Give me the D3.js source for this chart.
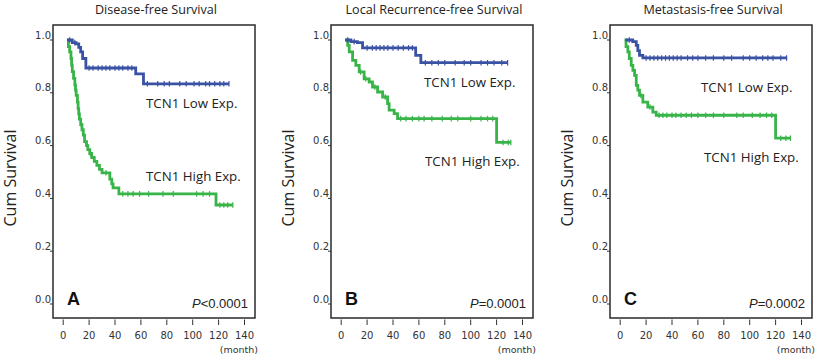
<!DOCTYPE html>
<html>
<head>
<meta charset="utf-8">
<script src="https://cdn.jsdelivr.net/npm/d3@7"></script>
<style>
  body { margin: 0; background: #fff; }
  svg { display: block; }
  .tick-label { font-family: "DejaVu Sans", sans-serif; font-size: 10px; fill: #333; }
  .title { font-family: "Open Sans", sans-serif; font-size: 12.6px; fill: #222; }
  .group-label { font-family: "Open Sans", sans-serif; font-size: 13.3px; fill: #222; }
  .axis-label { font-family: "Open Sans", sans-serif; font-size: 16px; fill: #222; }
</style>
</head>
<body>
<script>
// chart size
const width = 815;
const height = 361;

// panel text
const panelTitles = ['Disease-free Survival', 'Local Recurrence-free Survival', 'Metastasis-free Survival'];
const panelLetters = ['A', 'B', 'C'];
const pValues = ['<0.0001', '=0.0001', '=0.0002'];
const groupNames = ['TCN1 Low Exp.', 'TCN1 High Exp.'];
const yAxisLabel = 'Cum Survival';
const xUnit = '(month)';
const xTicks = [0, 20, 40, 60, 80, 100, 120, 140];
const yTicks = [0, 0.2, 0.4, 0.6, 0.8, 1.0];

// Kaplan-Meier steps: [month, survival after that month], last entry = end of follow-up
const dfsLow = [[3, 1.0], [7, 0.99], [10, 0.985], [12, 0.972], [13.5, 0.955], [15, 0.93], [17.5, 0.894], [56, 0.872], [62, 0.834], [128, 0.834]];
const dfsHigh = [[3, 1.0], [4, 0.975], [5, 0.955], [6, 0.93], [6.5, 0.905], [7, 0.88], [8, 0.855], [9, 0.83], [9.5, 0.81], [10, 0.79],
  [11, 0.765], [11.5, 0.74], [12, 0.72], [12.5, 0.70], [13.5, 0.68], [14.5, 0.66], [15.5, 0.64], [16.5, 0.615], [18, 0.60],
  [19, 0.585], [20.5, 0.57], [22, 0.555], [24, 0.54], [26, 0.525], [28, 0.51], [30, 0.497], [36, 0.473], [37.5, 0.455],
  [38.5, 0.44], [43, 0.417], [118, 0.375], [131, 0.375]];
const lrfsLow = [[3, 1.0], [7.5, 0.994], [12.5, 0.99], [16.5, 0.97], [57.5, 0.942], [61.5, 0.914], [128.5, 0.914]];
const lrfsHigh = [[3, 1.0], [5, 0.98], [6.2, 0.955], [8.8, 0.923], [11.3, 0.904], [13.9, 0.879], [17.7, 0.853], [21.6, 0.841],
  [24.2, 0.822], [28.1, 0.803], [32, 0.784], [35.8, 0.759], [37, 0.734], [40.9, 0.721], [43.5, 0.702], [120, 0.612], [131, 0.612]];
const mfsLow = [[4, 1.0], [9.7, 0.994], [12.4, 0.98], [13.6, 0.96], [14.9, 0.942], [17.5, 0.932], [128.5, 0.932]];
const mfsHigh = [[3.3, 1.0], [4.5, 0.975], [5.9, 0.955], [7, 0.93], [8.5, 0.904], [9.8, 0.885], [11.1, 0.866], [12.4, 0.828],
  [13.6, 0.81], [14.9, 0.79], [17.5, 0.765], [21.3, 0.746], [25.2, 0.727], [27.8, 0.715], [120, 0.628], [131.5, 0.628]];

// censored cases (months)
const dfsLowCensor = [5, 9, 20, 23, 27, 30, 33, 36, 40, 43, 46, 50, 53, 65, 73, 78, 82, 90, 95, 101, 105, 110, 113, 117, 121, 124, 128];
const dfsHighCensor = [14, 21, 33, 46, 50, 54, 59, 66, 77, 85, 103, 108, 113, 121, 124, 127, 131];
const lrfsLowCensor = [5, 10, 20, 24, 27, 30, 33, 36, 40, 44, 48, 52, 55, 65, 70, 75, 80, 88, 95, 100, 108, 113, 118, 124, 128.5];
const lrfsHighCensor = [15, 19, 26, 34, 46, 50, 55, 60, 64, 70, 78, 85, 90, 100, 108, 113, 117, 125, 129, 131];
const mfsLowCensor = [7, 20, 23, 26, 29, 32, 35, 38, 41, 44, 47, 52, 56, 60, 66, 72, 80, 86, 95, 100, 105, 110, 114, 118, 124, 128.5];
const mfsHighCensor = [16, 23, 30, 33, 36, 40, 43, 47, 51, 55, 60, 66, 72, 80, 90, 95, 102, 108, 113, 117, 124, 128, 131.5];

const curves = [
  { low: dfsLow, high: dfsHigh, lowCensor: dfsLowCensor, highCensor: dfsHighCensor },
  { low: lrfsLow, high: lrfsHigh, lowCensor: lrfsLowCensor, highCensor: lrfsHighCensor },
  { low: mfsLow, high: mfsHigh, lowCensor: mfsLowCensor, highCensor: mfsHighCensor }
];

// layout
const frameLefts = [53, 331, 610];
const frameWidth = 202;
const frameTop = 25;
const frameBottom = 318;
const labelPos = [
  { low: [146, 108], high: [146, 181] },
  { low: [424, 87], high: [425, 166] },
  { low: [701, 92], high: [704, 162] }
];
const lowColor = '#3a52a3';
const highColor = '#38b449';

const svg = d3.select('body').append('svg')
  .attr('width', width)
  .attr('height', height);

const yScale = d3.scaleLinear().domain([0, 1]).range([304, 40]);

function survivalAt(steps, t) {
  let s = steps[0][1];
  steps.forEach(d => { if (d[0] <= t) s = d[1]; });
  return s;
}

panelTitles.forEach((title, i) => {
  const left = frameLefts[i];
  const xScale = d3.scaleLinear().domain([0, 140]).range([left + 10.2, left + 191.5]);
  const g = svg.append('g');

  // title
  g.append('text')
    .attr('class', 'title')
    .attr('x', left + frameWidth / 2 + 2)
    .attr('y', 14)
    .attr('text-anchor', 'middle')
    .text(title);

  // frame
  g.append('rect')
    .attr('x', left)
    .attr('y', frameTop)
    .attr('width', frameWidth)
    .attr('height', frameBottom - frameTop)
    .attr('fill', 'none')
    .attr('stroke', '#2a2a2a')
    .attr('stroke-width', 1.5);

  // y ticks
  const yt = g.selectAll('.ytick').data(yTicks).enter().append('g').attr('class', 'ytick');
  yt.append('line')
    .attr('x1', left - 3).attr('x2', left)
    .attr('y1', d => yScale(d)).attr('y2', d => yScale(d))
    .attr('stroke', '#333').attr('stroke-width', 1);
  yt.append('text')
    .attr('class', 'tick-label')
    .attr('x', left - 2)
    .attr('y', d => yScale(d) - 1.5)
    .attr('text-anchor', 'end')
    .text(d => d.toFixed(1));

  // x ticks
  const xt = g.selectAll('.xtick').data(xTicks).enter().append('g').attr('class', 'xtick');
  xt.append('line')
    .attr('x1', d => xScale(d)).attr('x2', d => xScale(d))
    .attr('y1', frameBottom + 1.5).attr('y2', frameBottom + 7)
    .attr('stroke', '#333').attr('stroke-width', 1);
  xt.append('text')
    .attr('class', 'tick-label')
    .attr('x', d => xScale(d))
    .attr('y', 338.5)
    .attr('text-anchor', 'middle')
    .text(d => d);

  g.append('text')
    .attr('class', 'tick-label')
    .attr('x', left + frameWidth + 3)
    .attr('y', 353)
    .attr('text-anchor', 'end')
    .style('font-size', '9.5px')
    .text(xUnit);

  // y axis label
  g.append('text')
    .attr('class', 'axis-label')
    .attr('transform', `translate(${left - 37},178) rotate(-90)`)
    .attr('text-anchor', 'middle')
    .text(yAxisLabel);

  // panel letter and p value
  g.append('text')
    .attr('x', left + 14)
    .attr('y', 305)
    .style('font-family', '"Liberation Sans", Arial, sans-serif')
    .style('font-weight', 'bold')
    .style('font-size', '18px')
    .attr('fill', '#111')
    .text(panelLetters[i]);

  const p = g.append('text')
    .attr('x', left + frameWidth - 7)
    .attr('y', 308)
    .attr('text-anchor', 'end')
    .style('font-family', '"Liberation Sans", Arial, sans-serif')
    .style('font-size', '13px')
    .attr('fill', '#222');
  p.append('tspan').style('font-style', 'italic').text('P');
  p.append('tspan').text(pValues[i]);

  // curves
  const line = d3.line()
    .x(d => xScale(d[0]))
    .y(d => yScale(d[1]))
    .curve(d3.curveStepAfter);

  const series = [
    { steps: curves[i].high, censor: curves[i].highCensor, color: highColor },
    { steps: curves[i].low, censor: curves[i].lowCensor, color: lowColor }
  ];

  series.forEach(s => {
    g.append('path')
      .attr('d', line(s.steps))
      .attr('fill', 'none')
      .attr('stroke', s.color)
      .attr('stroke-width', 2.8);

    g.selectAll(null)
      .data(s.censor)
      .enter()
      .append('line')
      .attr('x1', d => xScale(d)).attr('x2', d => xScale(d))
      .attr('y1', d => yScale(survivalAt(s.steps, d)) - 2.8)
      .attr('y2', d => yScale(survivalAt(s.steps, d)) + 2.8)
      .attr('stroke', s.color)
      .attr('stroke-width', 1.2);
  });

  // group labels
  g.append('text')
    .attr('class', 'group-label')
    .attr('x', labelPos[i].low[0])
    .attr('y', labelPos[i].low[1])
    .text(groupNames[0]);
  g.append('text')
    .attr('class', 'group-label')
    .attr('x', labelPos[i].high[0])
    .attr('y', labelPos[i].high[1])
    .text(groupNames[1]);
});
</script>
</body>
</html>
